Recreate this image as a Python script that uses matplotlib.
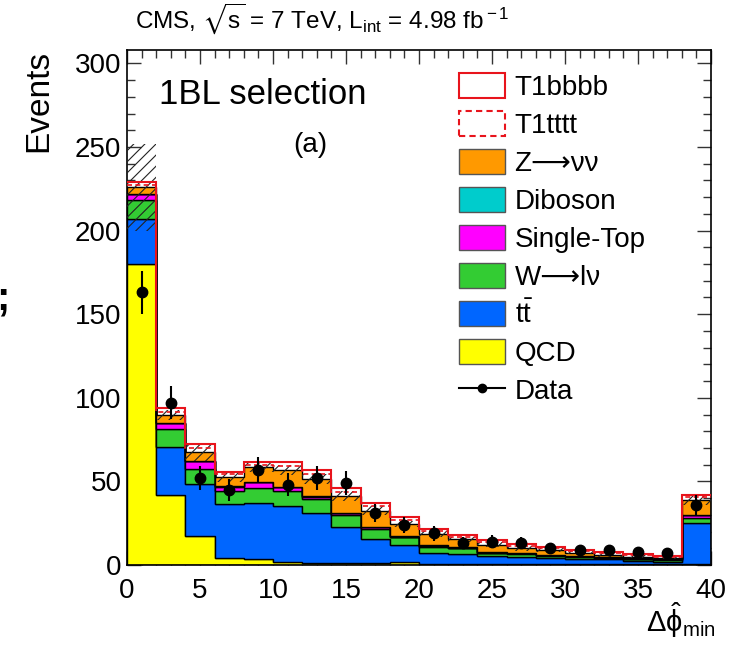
import numpy as np
import matplotlib
matplotlib.use("Agg")
import matplotlib.pyplot as plt
from matplotlib.patches import Patch
from matplotlib.lines import Line2D
from matplotlib.ticker import MultipleLocator

plt.rcParams['font.family'] = ['Liberation Sans', 'DejaVu Sans']
plt.rcParams['mathtext.fontset'] = 'custom'
plt.rcParams['mathtext.rm'] = 'Liberation Sans'
plt.rcParams['mathtext.it'] = 'Liberation Sans:italic'
plt.rcParams['mathtext.bf'] = 'Liberation Sans:bold'
plt.rcParams['mathtext.fallback'] = 'stixsans'
plt.rcParams['hatch.linewidth'] = 0.8

# ---- data ----
bin_edges = np.arange(0, 42, 2)
qcd      = [180, 42, 17.3, 4, 3.5, 2, 1, 1, 1, 1.5, 0.5, 0.5, 0.3, 0.3, 0.3, 0.3, 0.3, 0.3, 0.3, 0.3]
ttbar    = [27, 28.5, 31, 32.3, 33.4, 33, 30.3, 22, 14.4, 10.5, 6.9, 6.1, 5.3, 4.7, 3.7, 3.3, 3.1, 2.3, 1.7, 24.6]
wlnu     = [11, 10.7, 9, 8, 8.9, 9, 8, 7, 6.1, 4.5, 3.6, 3.4, 1.4, 1.6, 1.4, 1.4, 0.6, 0.7, 1, 3]
singletop = [3.7, 3.6, 4.6, 2.6, 3.6, 2.6, 1.6, 1, 1, 0.5, 0.5, 0.3, 0.3, 0.3, 0.3, 0.3, 0.3, 0.3, 0.3, 2]
diboson  = [0.3, 0.3, 0.3, 0.3, 0.3, 0.3, 0.3, 0.3, 0.3, 0.3, 0.3, 0.3, 0.3, 0.3, 0.3, 0.3, 0.3, 0.3, 0.3, 0.3]
znunu    = [4, 4.7, 5.1, 5.6, 9.1, 10, 10, 9.7, 9.7, 7.2, 6.7, 4.8, 4.4, 2.8, 3, 1.8, 1.4, 1, 0.8, 8.7]
sm_unc   = [26, 3, 5, 3, 3, 3, 3, 3, 2.5, 2, 2, 1.5, 1.5, 1.5, 1, 1, 1, 1, 1, 3]
t1bbbb   = [3, 4, 5, 3, 2.6, 4.6, 5.6, 5, 4.4, 4.4, 3, 2.5, 3, 2.4, 1.6, 1.6, 1.6, 1.4, 1, 3]
t1tttt   = [1.5, 2, 2.5, 1.5, 1.2, 2.5, 3, 2.8, 2.5, 2.5, 1.8, 1.5, 1.8, 1.4, 1, 1, 1, 0.8, 0.6, 1.8]
data     = [163, 97, 52, 45, 57, 48, 52, 49, 31, 24, 19, 13, 14, 13, 10, 9, 9, 8, 7, 36]

components = [
    ("QCD", qcd, "#ffff00"),
    (r"t$\bar{\rm t}$", ttbar, "#0066ff"),
    ("W\u27f6l\u03bd", wlnu, "#33cc33"),
    ("Single-Top", singletop, "#ff00ff"),
    ("Diboson", diboson, "#00cccc"),
    ("Z\u27f6\u03bd\u03bd", znunu, "#ff9900"),
]
red = "#e8141c"

W, H = 741, 649
fig = plt.figure(figsize=(W / 100, H / 100), dpi=100)
ax = fig.add_axes([127 / W, 1 - 565 / H, (711 - 127) / W, (565 - 50) / H])

cum = np.zeros(len(qcd))
for name, vals, col in components:
    v = np.asarray(vals, float)
    ax.stairs(cum + v, bin_edges, baseline=cum.copy(), fill=True,
              facecolor=col, edgecolor="black", linewidth=1.0, zorder=2)
    cum = cum + v

sm = cum
unc = np.asarray(sm_unc, float)
ax.stairs(sm + unc, bin_edges, baseline=sm - unc, fill=True, facecolor="none",
          edgecolor="#222222", hatch="///", linewidth=0, zorder=3)

ax.stairs(sm + np.asarray(t1tttt), bin_edges, baseline=None, color=red,
          linewidth=1.2, linestyle=(0, (3, 2)), zorder=4)
ax.stairs(sm + np.asarray(t1bbbb), bin_edges, baseline=None, color=red,
          linewidth=1.5, zorder=4)

centers = 0.5 * (bin_edges[:-1] + bin_edges[1:])
d = np.asarray(data, float)
ax.errorbar(centers, d, yerr=np.sqrt(d), fmt="o", color="black", ms=7.5,
            elinewidth=1.5, capsize=0, zorder=5)

ax.set_xlim(0, 40)
ax.set_ylim(0, 308)
ax.xaxis.set_major_locator(MultipleLocator(5))
ax.xaxis.set_minor_locator(MultipleLocator(1))
ax.yaxis.set_major_locator(MultipleLocator(50))
ax.yaxis.set_minor_locator(MultipleLocator(10))
ax.tick_params(which="both", direction="in", top=True, right=True, width=1.0, color="#333333")
ax.tick_params(which="major", length=10)
ax.tick_params(which="minor", length=6)
ax.tick_params(axis="y", labelsize=20, pad=4)
ax.tick_params(axis="x", labelsize=20, pad=9)
for s in ax.spines.values():
    s.set_linewidth(1.2)

# texts
ax.text(2.2, 276, "1BL selection", fontsize=25, va="baseline", ha="left")
ax.text(11.4, 247, "(a)", fontsize=20, va="baseline", ha="left")
fig.text(135 / W, 1 - 28 / H,
         r"CMS, $\sqrt{\rm s}$ = 7 TeV, L$_{\rm int}$ = 4.98 fb$^{\rm -1}$",
         fontsize=17.5, ha="left", va="baseline")
fig.text(39 / W, 1 - 50 / H, "Events", rotation=90, fontsize=24, ha="center", va="top")
fig.text(716 / W, 1 - 632 / H, r"$\Delta\hat{\mathrm{\phi}}_{\rm min}$", fontsize=21,
         ha="right", va="baseline")
fig.text(3 / W, 1 - 310 / H, ";", fontsize=29, fontweight="bold", ha="center", va="baseline")

# legend
handles = [
    Patch(facecolor="white", edgecolor=red, linewidth=1.5),
    Patch(facecolor="white", edgecolor=red, linewidth=1.5, linestyle=(0, (3, 2))),
]
labels = ["T1bbbb", "T1tttt"]
for name, vals, col in reversed(components):
    handles.append(Patch(facecolor=col, edgecolor="#555555", linewidth=1.0))
    labels.append(name)
handles.append(Line2D([], [], color="black", marker="o", ms=6, lw=1.5))
labels.append("Data")
leg = ax.legend(handles, labels, loc="upper left",
                bbox_to_anchor=(459 / W, 1 - 73 / H), bbox_transform=fig.transFigure,
                frameon=False, fontsize=20, handlelength=1.65, handleheight=1.0,
                labelspacing=0.36, handletextpad=0.35, borderpad=0, borderaxespad=0)

fig.savefig("out.png", dpi=100)
